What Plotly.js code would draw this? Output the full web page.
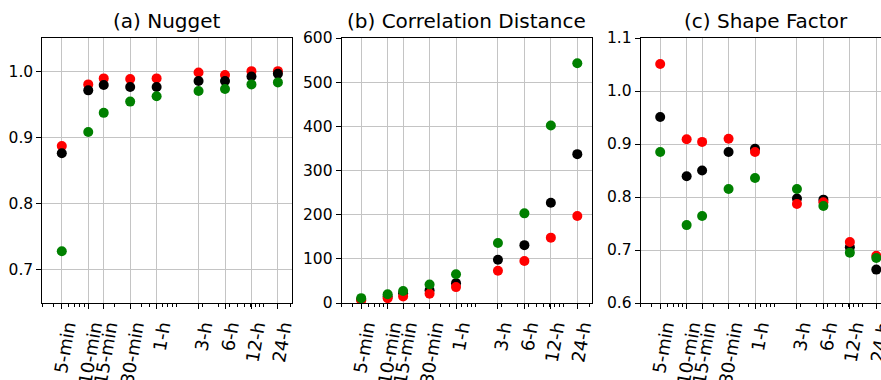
<!DOCTYPE html>
<html>
<head>
<meta charset="utf-8">
<script src="https://cdn.plot.ly/plotly-3.0.1.min.js"></script>
<style>
html,body{margin:0;padding:0;overflow:hidden;background:#fff;}
#chart{width:893px;height:380px;}
</style>
</head>
<body>
<div id="chart"></div>
<script>
// ---- data ----
const tickLabels = ['5-min','10-min','15-min','30-min','1-h','3-h','6-h','12-h','24-h'];
const minutes    = [5, 10, 15, 30, 60, 180, 360, 720, 1440];

const nuggetBlack = [0.876, 0.971, 0.979, 0.976, 0.976, 0.985, 0.985, 0.992, 0.996];
const nuggetRed   = [0.887, 0.980, 0.989, 0.988, 0.989, 0.998, 0.994, 1.000, 1.000];
const nuggetGreen = [0.728, 0.908, 0.937, 0.954, 0.962, 0.970, 0.973, 0.980, 0.983];

const corrBlack = [8, 15, 22, 29, 45, 98, 131, 227, 337];
const corrRed   = [6, 11, 15, 21, 36, 73, 95, 148, 197];
const corrGreen = [11, 20, 27, 42, 65, 136, 203, 402, 543];

const shapeBlack = [0.951, 0.839, 0.850, 0.885, 0.891, 0.797, 0.795, 0.705, 0.663];
const shapeRed   = [1.051, 0.909, 0.904, 0.910, 0.885, 0.787, 0.790, 0.715, 0.689];
const shapeGreen = [0.885, 0.747, 0.764, 0.815, 0.836, 0.815, 0.783, 0.695, 0.685];

const titles = ['(a) Nugget', '(b) Correlation Distance', '(c) Shape Factor'];

// ---- styling ----
const W = 893, H = 380;
const FONT = 'DejaVu Sans, sans-serif';
const colors = {black:'#000000', red:'#ff0000', green:'#008000'};
const panelPx = [[42.3, 292.3], [341.7, 591.7], [640.7, 890.7]];

function tr(y, color, ax){
  return {
    x: minutes, y: y, type:'scatter', mode:'markers',
    xaxis: 'x' + (ax===1?'':ax), yaxis: 'y' + (ax===1?'':ax),
    marker:{color: color, size: 10, line:{width:0}},
    showlegend:false, hoverinfo:'skip'
  };
}

const data = [
  tr(nuggetRed, colors.red, 1), tr(nuggetBlack, colors.black, 1), tr(nuggetGreen, colors.green, 1),
  tr(corrBlack, colors.black, 2), tr(corrRed, colors.red, 2), tr(corrGreen, colors.green, 2),
  tr(shapeBlack, colors.black, 3), tr(shapeRed, colors.red, 3), tr(shapeGreen, colors.green, 3)
];

function xaxis(i){
  return {
    type:'log',
    domain:[panelPx[i][0]/W, panelPx[i][1]/W],
    range:[Math.log10(3), Math.log10(2100)],
    tickmode:'array', tickvals: minutes, ticktext: tickLabels,
    tickangle:-80,
    ticklabelshift:5, ticklabeloverflow:'allow',
    ticks:'outside', ticklen:5, tickwidth:1, tickcolor:'#000',
    tickfont:{family:FONT, size:18, color:'#000'},
    showgrid:true, gridcolor:'#c4c4c4', gridwidth:1,
    showline:true, linecolor:'#000', linewidth:1, mirror:true,
    zeroline:false,
    minor:{ticks:'outside', ticklen:2.5, tickwidth:1, tickcolor:'#000', dtick:'D1', showgrid:false},
    anchor: 'y' + (i===0?'':(i+1))
  };
}
function yaxis(i, range, dtick){
  return {
    domain:[0,1],
    range: range, dtick: dtick, tick0: 0,
    ticks:'outside', ticklen:5, tickwidth:1, tickcolor:'#000',
    tickfont:{family:FONT, size:15.5, color:'#000'},
    showgrid:true, gridcolor:'#c4c4c4', gridwidth:1,
    showline:true, linecolor:'#000', linewidth:1, mirror:true,
    zeroline:false,
    anchor: 'x' + (i===0?'':(i+1))
  };
}

const annotations = titles.map((t,i)=>({
  text:t, xref:'paper', yref:'paper',
  x:((panelPx[i][0]+panelPx[i][1])/2)/W, y:1,
  xanchor:'center', yanchor:'bottom', yshift:3, showarrow:false,
  font:{family:FONT, size:20, color:'#000'}
}));

const layout = {
  width:W, height:H,
  margin:{l:0, r:0, t:38, b:77, pad:0},
  paper_bgcolor:'#fff', plot_bgcolor:'#fff',
  font:{family:FONT, color:'#000'},
  xaxis: xaxis(0), xaxis2: xaxis(1), xaxis3: xaxis(2),
  yaxis: yaxis(0, [0.65, 1.05], 0.1),
  yaxis2: yaxis(1, [0, 600], 100),
  yaxis3: yaxis(2, [0.6, 1.1], 0.1),
  annotations: annotations,
  showlegend:false
};
layout.yaxis.tickformat = '.1f';
layout.yaxis3.tickformat = '.1f';

Plotly.newPlot('chart', data, layout, {staticPlot:true, displayModeBar:false});
</script>
</body>
</html>
